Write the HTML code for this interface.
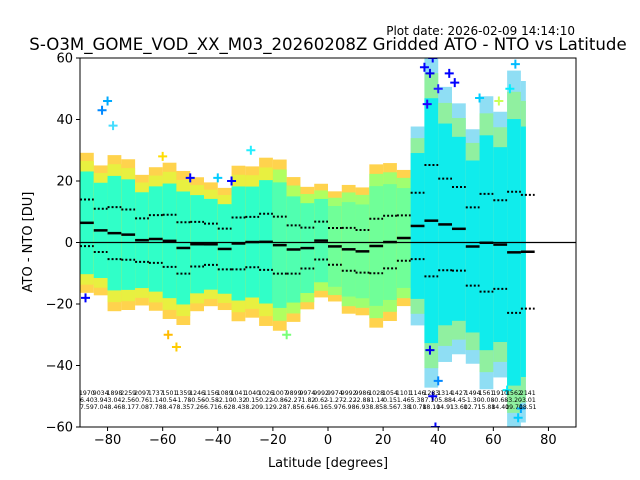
<!DOCTYPE html>
<html><head><meta charset="utf-8"><style>
body{margin:0;background:#fff}
svg{display:block;font-family:"DejaVu Sans","Liberation Sans",sans-serif}
</style></head><body>
<svg id="chart" width="640" height="480" viewBox="0 0 640 480" xmlns="http://www.w3.org/2000/svg">
<rect width="640" height="480" fill="#fff"/>
<text x="575" y="35" font-size="12" text-anchor="end">Plot date: 2026-02-09 14:14:10</text>
<text x="328" y="50" font-size="16.6" text-anchor="middle">S-O3M_GOME_VOD_XX_M03_20260208Z Gridded ATO - NTO vs Latitude</text>
<g id="plot"></g>
<text x="328" y="467" font-size="13" text-anchor="middle">Latitude [degrees]</text>
<text transform="translate(32,242) rotate(-90)" font-size="13" text-anchor="middle">ATO - NTO [DU]</text>
</svg>
<script>
const latBins=[-87.5,-82.5,-77.5,-72.5,-67.5,-62.5,-57.5,-52.5,-47.5,-42.5,-37.5,-32.5,-27.5,-22.5,-17.5,-12.5,-7.5,-2.5,2.5,7.5,12.5,17.5,22.5,27.5,32.5,37.5,42.5,47.5,52.5,57.5,62.5,67.5,72.5];
const medians=[6.40,3.94,3.04,2.56,0.76,1.14,0.54,-1.78,-0.56,-0.58,-2.10,-0.32,0.15,0.22,-0.86,-2.27,-1.82,0.62,-1.27,-2.22,-2.88,-1.14,0.15,1.46,5.38,7.10,5.88,4.45,-1.30,-0.08,-0.68,-3.20,-3.01];
const stds=[7.59,7.04,8.46,8.17,7.08,7.78,8.47,8.35,7.26,6.71,6.62,8.43,8.20,9.12,9.28,7.85,6.64,6.16,5.97,6.98,6.93,8.85,8.56,7.38,10.78,18.10,14.91,13.60,12.71,15.88,14.40,19.70,18.51];
const counts=["1970","9034","1898","2259","2097","1737","1501","1359","1246","1156","1089","1041","1040","1026","1007","9899","9974","9992","9974","9992","9986","1028","1054","1101","1146","1283","1314","1427","1494","1561","1910","1562","2141"];
const outLat=[-80,-82,-78,-88,-55,-58,-50,-15,-28,35,37,38,40,44,46,36,39,68,66,62,38,40,37,69,70,65,-60,-40,-35,55];
const outVal=[46,43,38,-18,-34,-30,21,-30,30,57,55,60,50,55,52,45,-60,58,50,46,-50,-45,-35,-57,-54,-48,28,21,20,47];
const outCol=["#0af","#08f","#4df","#00f","#fc0","#fb0","#00f","#7f7","#2ef","#00f","#00e","#00f","#22f","#00f","#00f","#20f","#00f","#0bf","#0ef","#cf5","#00f","#08f","#00e","#0cf","#0af","#0ef","#fd0","#0cf","#00f","#0cf"];
const xTicks=[-80,-60,-40,-20,0,20,40,60,80];
const yTicks=[-60,-40,-20,0,20,40,60];

const L=80,R=576,T=58,B=427;
const xs=v=>L+(v+90)/180*(R-L);
const ys=v=>T+(60-v)/120*(B-T);
const NS="http://www.w3.org/2000/svg";
const g=document.getElementById('plot');
function mk(tag,attrs,parent){const e=document.createElementNS(NS,tag);for(const k in attrs)e.setAttribute(k,attrs[k]);(parent||g).appendChild(e);return e;}
const defs=mk('defs',{});
const cp=mk('clipPath',{id:'clip'},defs);mk('rect',{x:L,y:T,width:R-L,height:B-T},cp);
const cloud=mk('g',{'clip-path':'url(#clip)'});


function zone(lat){if(lat<-20)return ['#ffc820','#e8f040','#30ffc8',0.8];if(lat<0)return ['#ffc820','#b0ff60','#50ffb0',0.8];if(lat<30)return ['#ffc820','#a0ff70','#70ff98',0.8];return ['#60d0f0','#90f0a0','#10ecec',0.7];}
latBins.forEach((lat,i)=>{
  const m=medians[i],s=stds[i],c=zone(lat);
  const x0=xs(lat-2.5),w=xs(Math.min(lat+2.5,71.8))-x0;
  const r1=mk('rect',{x:x0,y:ys(m+3*s),width:w,height:ys(m-3*s)-ys(m+3*s),fill:c[0],opacity:c[3]},cloud);
  
  
  const r2=mk('rect',{x:x0,y:ys(m+2.65*s),width:w,height:ys(m-2.65*s)-ys(m+2.65*s),fill:c[1]},cloud);
  
  
  const r3=mk('rect',{x:x0,y:ys(m+2.2*s),width:w,height:ys(m-2.2*s)-ys(m+2.2*s),fill:c[2]},cloud);
  
  
});
outLat.forEach((lat,i)=>{
  const x=xs(lat),y=ys(outVal[i]);
  const p=mk('path',{d:`M${x-4.5},${y}H${x+4.5}M${x},${y-4.5}V${y+4.5}`,stroke:outCol[i],'stroke-width':2},cloud);
  
  
});
const zl=mk('line',{x1:L,x2:R,y1:ys(0),y2:ys(0),stroke:'#000','stroke-width':1.2});


latBins.forEach((lat,i)=>{
  const m=medians[i],s=stds[i];
  const md=mk('line',{x1:xs(lat-2.5),x2:xs(lat+2.5),y1:ys(m),y2:ys(m),stroke:'#000','stroke-width':2.5});
  
  
  [m+s,m-s].forEach(v=>{
    const d=mk('line',{x1:xs(lat-2.5),x2:xs(lat+2.5),y1:ys(v),y2:ys(v),stroke:'#000','stroke-width':2,'stroke-dasharray':'2,2'});
    
    
  });
  const rows=[counts[i],medians[i].toFixed(2),stds[i].toFixed(2)];
  rows.forEach((t,j)=>{
    const tx=mk('text',{x:xs(lat),y:395+j*7,'font-size':6.2,'text-anchor':'middle'});
    tx.textContent=t;
    
    
  });
});
const fr=mk('rect',{x:L,y:T,width:R-L,height:B-T,fill:'none',stroke:'#000','stroke-width':1});


xTicks.forEach(v=>{
  const x=xs(v);
  const tk=mk('line',{x1:x,x2:x,y1:B,y2:B+4,stroke:'#000'});
  
  
  const t=mk('text',{x:x,y:B+17,'font-size':13,'text-anchor':'middle'});
  t.textContent=v<0?'\u2212'+(-v):String(v);
  
  
});
yTicks.forEach(v=>{
  const y=ys(v);
  const tk=mk('line',{x1:L-4,x2:L,y1:y,y2:y,stroke:'#000'});
  
  
  const t=mk('text',{x:L-7,y:y+4.5,'font-size':13,'text-anchor':'end'});
  t.textContent=v<0?'\u2212'+(-v):String(v);
  
  
});
</script>
</body></html>
